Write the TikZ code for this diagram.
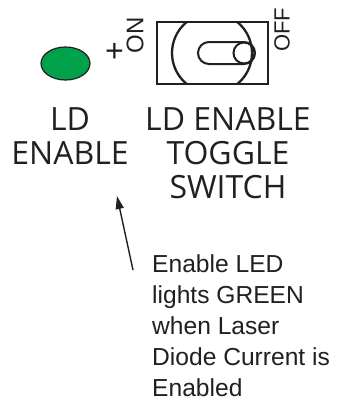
\documentclass[tikz,border=0pt]{standalone}
\usepackage{fontspec}
\setmainfont{Open Sans}
\newfontfamily\arialfont{Liberation Sans}
\usetikzlibrary{arrows.meta,shapes.geometric}
\definecolor{ledgreen}{RGB}{0,161,75}
\definecolor{ink}{RGB}{35,31,32}
\tikzset{
  bigtext/.style={inner sep=0pt, align=center, text=ink, font=\fontsize{32}{34}\selectfont},
  smalltext/.style={inner sep=0pt, align=left, text=ink, font=\arialfont\fontsize{24.6}{31}\selectfont},
  marktext/.style={inner sep=0pt, rotate=90, text=ink, font=\arialfont\fontsize{24}{24}\selectfont},
  swline/.style={draw=ink, line width=2pt},
}
\begin{document}
\begin{tikzpicture}[x=1pt,y=-1pt]
\useasboundingbox (0,0) rectangle (346,400);
% LED
\node[ellipse, draw=ink, line width=1.2pt, fill=ledgreen, minimum width=49pt, minimum height=33pt, inner sep=0pt] (led) at (65.5,63.5) {};
% switch
\node[swline, rectangle, minimum width=111pt, minimum height=62pt, inner sep=0pt] (sw) at (212.5,53) {};
\begin{scope}
  \clip (157,22) rectangle (268,84);
  \draw[swline, line width=2.3pt] (212,53) circle (40);
\end{scope}
\draw[swline] (209,42) -- (244,42) arc[start angle=-90, end angle=90, radius=11] -- (209,64) arc[start angle=90, end angle=270, radius=11] -- cycle;
\draw[swline] (244,53) circle (10.5);
% marks
\node[marktext] (on) at (135,35) {ON};
\node[marktext, font=\arialfont\fontsize{32}{32}\selectfont] (plus) at (116,51.5) {+};
\node[marktext, font=\arialfont\fontsize{22}{22}\selectfont] (off) at (282,30) {OFF};
% labels
\node[bigtext, anchor=north] (ledlbl) at (70,107) {LD\\ENABLE};
\node[bigtext, anchor=north] (swlbl) at (228,107) {LD ENABLE\\TOGGLE\\SWITCH};
\node[smalltext, anchor=north west] (note) at (152,254) {Enable LED\\lights GREEN\\when Laser\\Diode Current is\\Enabled};
% arrow
\coordinate (tail) at (133,270);
\coordinate (tip) at (117,196);
\draw[draw=ink, line width=1.4pt, -{Triangle[length=13pt,width=8pt]}] (tail) -- (tip);
\end{tikzpicture}
\end{document}
